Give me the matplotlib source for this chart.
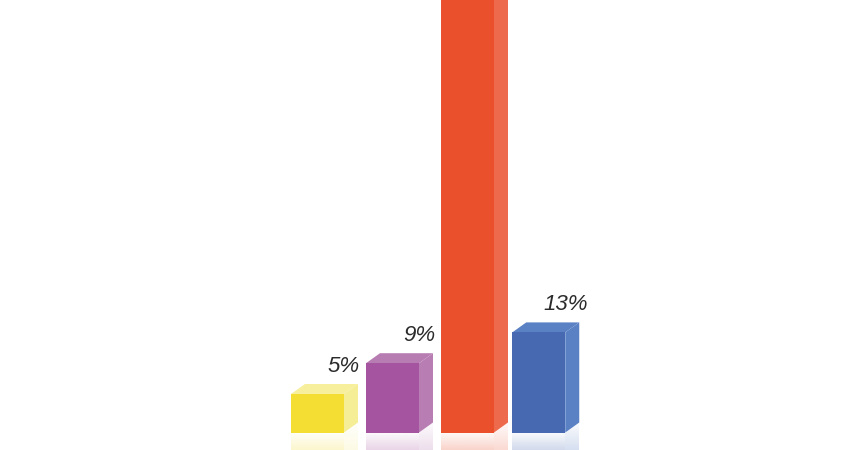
import numpy as np
import matplotlib.pyplot as plt
from matplotlib.patches import Polygon
from matplotlib.colors import to_rgb

labels = ['5%', '9%', '', '13%']   # the tall bar's label sits above the picture
values = [5, 9, 73, 13]
front_colors = ['#f4de34', '#a5559f', '#e9502b', '#4669b2']
side_colors = ['#f6ee96', '#b87db3', '#ee6a4d', '#5a81c4']
top_colors = ['#f7ef9c', '#b77cb2', '#ee6a4d', '#5a81c4']

x_pos = np.array([0, 1, 2, 2.95])
px_x = 75.0
px_y = 7.7
bar_w = 53 / px_x
dep_x = 14 / px_x
dep_y = 10 / px_y

fig = plt.figure(figsize=(8.6, 4.5), dpi=100)
ax = fig.add_axes([0, 0, 1, 1])
ax.set_xlim(-317.5 / px_x, (860 - 317.5) / px_x)
ax.set_ylim(-17.5 / px_y, (450 - 17.5) / px_y)
ax.axis('off')

y_lo = ax.get_ylim()[0]
for x, v, fc, sc, tc, lab in zip(x_pos, values, front_colors, side_colors,
                                 top_colors, labels):
    x0, x1 = x - bar_w / 2, x + bar_w / 2

    # soft reflection under the bar
    grad = np.zeros((50, 2, 4))
    grad[..., :3] = to_rgb(fc)
    grad[..., 3] = np.linspace(0.25, 0.03, 50)[:, None]
    ax.imshow(grad, extent=[x0, x1, 0, y_lo], aspect='auto', zorder=1,
              origin='upper', interpolation='bilinear')
    grad_s = grad.copy()
    grad_s[..., :3] = to_rgb(sc)
    ax.imshow(grad_s, extent=[x1, x1 + dep_x, dep_y, y_lo], aspect='auto',
              zorder=1, origin='upper', interpolation='bilinear')

    ax.bar(x, v, width=bar_w, color=fc, zorder=3, linewidth=0)
    ax.add_patch(Polygon([(x1, 0), (x1 + dep_x, dep_y), (x1 + dep_x, v + dep_y),
                          (x1, v)], closed=True, color=sc, lw=0, zorder=2))
    ax.add_patch(Polygon([(x0, v), (x1, v), (x1 + dep_x, v + dep_y),
                          (x0 + dep_x, v + dep_y)], closed=True, color=tc,
                         lw=0, zorder=2))
    if lab:
        ax.text(x1, v + dep_y + 1.6, lab, ha='center', va='baseline',
                fontsize=16, style='italic', family='Liberation Sans',
                color='#2b2b2b', zorder=4)

fig.savefig('out.png', dpi=100)
